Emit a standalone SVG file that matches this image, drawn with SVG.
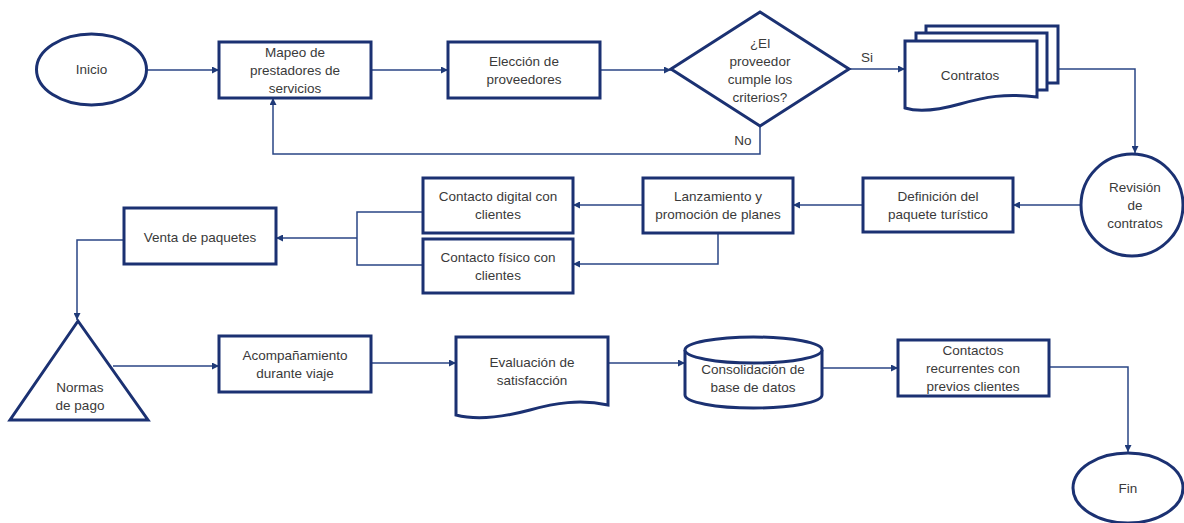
<svg xmlns="http://www.w3.org/2000/svg" width="1184" height="523" viewBox="0 0 1184 523">
<defs>
<marker id="ah" viewBox="0 0 10 10" refX="10" refY="5" markerWidth="7" markerHeight="7" markerUnits="userSpaceOnUse" orient="auto">
<path d="M0,0 L10,5 L0,10 Z" fill="#1F3A78"/>
</marker>
<style>
.s{fill:#fff;stroke:#1B3172;stroke-width:3}
.c{fill:none;stroke:#2A4585;stroke-width:1.5}
.a{marker-end:url(#ah)}
text{font-family:"Liberation Sans",Arial,sans-serif;font-size:13.5px;fill:#3A3A3A;text-anchor:middle}
</style>
</defs>
<rect width="1184" height="523" fill="#fff"/>
<g id="connectors">
<path class="c a" d="M147,70 H219"/>
<path class="c a" d="M371,70 H448"/>
<path class="c a" d="M600,70 H671"/>
<path class="c a" d="M760,126 V154 H273 V98"/>
<path class="c a" d="M849,69 H905"/>
<path class="c a" d="M1058,69 H1135 V153"/>
<path class="c a" d="M1080,205 H1013"/>
<path class="c a" d="M863,205 H793"/>
<path class="c a" d="M643,205 H573"/>
<path class="c a" d="M718,233 V264 H573"/>
<path class="c" d="M423,212 H357 V265 H423"/>
<path class="c a" d="M357,238 H276"/>
<path class="c a" d="M124,240 H77 V320"/>
<path class="c a" d="M113,366 H219"/>
<path class="c a" d="M371,363 H456"/>
<path class="c a" d="M608,363 H685"/>
<path class="c a" d="M822,368 H898"/>
<path class="c a" d="M1049,367 H1128 V452"/>
<text x="867" y="62">Si</text>
<text x="743" y="145">No</text>
</g>
<g id="inicio">
<ellipse class="s" cx="91.5" cy="69.5" rx="55" ry="35.5"/>
<text x="91.5" y="74">Inicio</text>
</g>
<g id="mapeo">
<rect class="s" x="219" y="42" width="152" height="56"/>
<text x="295" y="57">Mapeo de</text>
<text x="295" y="75">prestadores de</text>
<text x="295" y="93">servicios</text>
</g>
<g id="eleccion">
<rect class="s" x="448" y="42" width="152" height="56"/>
<text x="524" y="66">Elección de</text>
<text x="524" y="84">proveedores</text>
</g>
<g id="decision">
<path class="s" d="M760,12 L849,69 L760,126 L671,69 Z"/>
<text x="760" y="48">¿El</text>
<text x="760" y="66">proveedor</text>
<text x="760" y="84">cumple los</text>
<text x="760" y="102">criterios?</text>
</g>
<g id="contratos">
<path class="s" d="M926,33 V26 H1058 V83 H1047"/>
<path class="s" d="M916,41 V33 H1047 V90 H1037"/>
<path class="s" d="M905,41 H1037 V97 C1005,93 985,97 960,104 C935,111 918,112 905,108 Z"/>
<text x="970" y="80">Contratos</text>
</g>
<g id="revision">
<circle class="s" cx="1132" cy="205" r="51"/>
<text x="1135" y="192">Revisión</text>
<text x="1135" y="210">de</text>
<text x="1135" y="228">contratos</text>
</g>
<g id="definicion">
<rect class="s" x="863" y="178" width="150" height="54"/>
<text x="938" y="201">Definición del</text>
<text x="938" y="219">paquete turístico</text>
</g>
<g id="lanzamiento">
<rect class="s" x="643" y="178" width="150" height="55"/>
<text x="718" y="201">Lanzamiento y</text>
<text x="718" y="219">promoción de planes</text>
</g>
<g id="digital">
<rect class="s" x="423" y="178" width="150" height="55"/>
<text x="498" y="201">Contacto digital con</text>
<text x="498" y="219">clientes</text>
</g>
<g id="fisico">
<rect class="s" x="423" y="239" width="150" height="54"/>
<text x="498" y="262">Contacto físico con</text>
<text x="498" y="280">clientes</text>
</g>
<g id="venta">
<rect class="s" x="124" y="208" width="152" height="56"/>
<text x="200" y="242">Venta de paquetes</text>
</g>
<g id="normas">
<path class="s" d="M78,321 L148,420 L10,420 Z"/>
<text x="80" y="392">Normas</text>
<text x="80" y="410">de pago</text>
</g>
<g id="acompanamiento">
<rect class="s" x="219" y="336" width="152" height="56"/>
<text x="295" y="360">Acompañamiento</text>
<text x="295" y="378">durante viaje</text>
</g>
<g id="evaluacion">
<path class="s" d="M456,337 H608 V405 C580,399 555,403 530,410 C500,418 475,420 456,415 Z"/>
<text x="532" y="367">Evaluación de</text>
<text x="532" y="385">satisfacción</text>
</g>
<g id="consolidacion">
<path class="s" d="M685,350 V395 A68.5,13 0 0 0 822,395 V350 A68.5,13 0 0 0 685,350 Z"/>
<path class="s" d="M685,350 A68.5,13 0 0 0 822,350" fill="none"/>
<text x="753" y="374">Consolidación de</text>
<text x="753" y="392">base de datos</text>
</g>
<g id="contactos">
<rect class="s" x="898" y="340" width="151" height="56"/>
<text x="973" y="355">Contactos</text>
<text x="973" y="373">recurrentes con</text>
<text x="973" y="391">previos clientes</text>
</g>
<g id="fin">
<ellipse class="s" cx="1128" cy="488" rx="55" ry="35"/>
<text x="1128" y="493">Fin</text>
</g>
</svg>
